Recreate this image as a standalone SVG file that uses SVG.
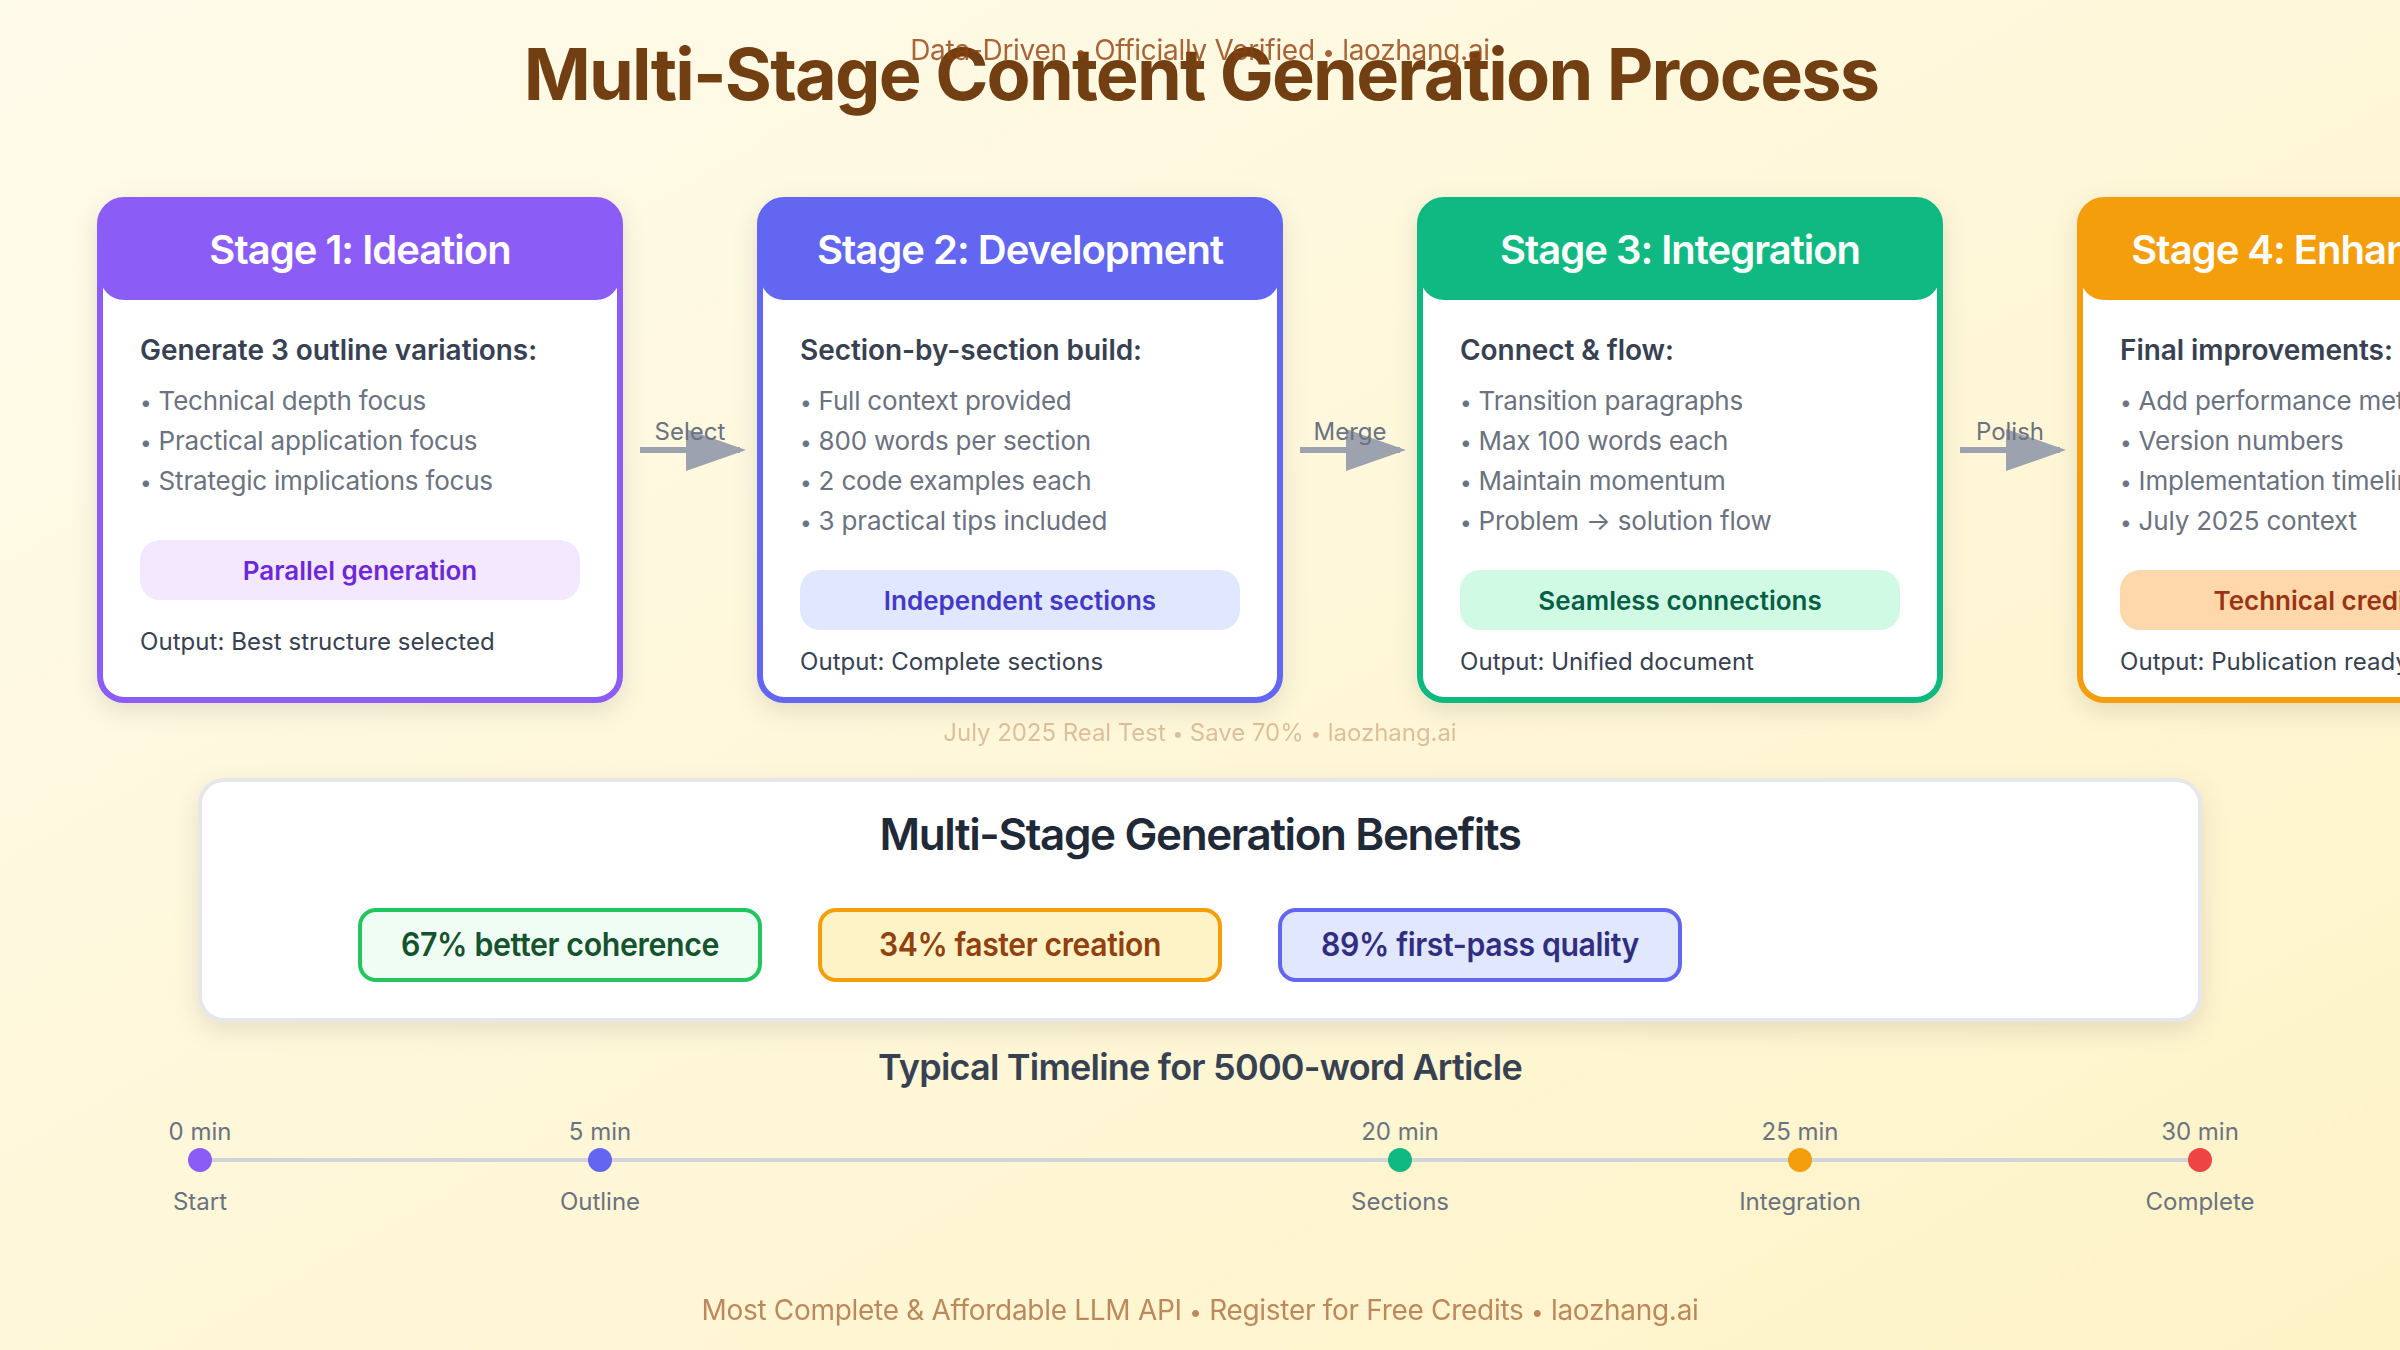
<svg xmlns="http://www.w3.org/2000/svg" width="2400" height="1350" viewBox="0 0 2400 1350">
<defs>
<linearGradient id="bg" x1="0" y1="0" x2="1" y2="1"><stop offset="0" stop-color="#fffbeb"/><stop offset="1" stop-color="#fef3c7"/></linearGradient>
<filter id="shadow" x="-10%" y="-10%" width="120%" height="125%"><feDropShadow dx="0" dy="8" stdDeviation="12" flood-color="#000" flood-opacity="0.1"/></filter>
<marker id="arrow" markerWidth="10" markerHeight="7" refX="9" refY="3.5" orient="auto"><polygon points="0 0,10 3.5,0 7" fill="#9ca3af"/></marker>
</defs>
<style>
text{font-family:Inter,"Liberation Sans",sans-serif}
.m{text-anchor:middle}
.card{fill:#fff;stroke-width:6;filter:url(#shadow)}
.head{font-size:40px;font-weight:600;fill:#fff;letter-spacing:-1px}
.sub{font-size:28px;font-weight:600;fill:#374151;letter-spacing:-.05px}
.li{font-size:26px;fill:#6b7280;letter-spacing:-.2px}
.pill{font-size:26px;font-weight:600}
.out{font-size:24px;fill:#374151;letter-spacing:.05px}
.lab{font-size:24px;fill:#6b7280}
.chip{font-size:32px;font-weight:600;letter-spacing:-.4px}
.note{letter-spacing:-.3px}
.b{font-size:.8em}
.conn{stroke:#9ca3af;stroke-width:6;fill:none;marker-end:url(#arrow)}
</style>
<rect width="2400" height="1350" fill="url(#bg)"/>
<g id="title">
<text class="m" x="1201" y="100" font-size="72" font-weight="700" fill="#713f12" letter-spacing="-1.8">Multi-Stage Content Generation Process</text>
<text class="m note" x="1200" y="60" font-size="28" fill="#92400e" opacity="0.8">Data-Driven <tspan class="b">•</tspan> Officially Verified <tspan class="b">•</tspan> laozhang.ai</text>
</g>
<g id="stage1">
<rect class="card" x="100" y="200" width="520" height="500" rx="24" stroke="#8b5cf6"/>
<rect x="100" y="200" width="520" height="100" rx="24" fill="#8b5cf6"/>
<text class="head m" x="360" y="264">Stage 1: Ideation</text>
<text class="sub" x="140" y="360">Generate 3 outline variations:</text>
<text class="li" x="140" y="410"><tspan class="b">•</tspan> Technical depth focus</text>
<text class="li" x="140" y="450"><tspan class="b">•</tspan> Practical application focus</text>
<text class="li" x="140" y="490"><tspan class="b">•</tspan> Strategic implications focus</text>
<rect x="140" y="540" width="440" height="60" rx="20" fill="#f3e8ff"/>
<text class="pill m" x="360" y="580" fill="#6d28d9">Parallel generation</text>
<text class="out" x="140" y="650">Output: Best structure selected</text>
</g>
<g id="stage2">
<rect class="card" x="760" y="200" width="520" height="500" rx="24" stroke="#6366f1"/>
<rect x="760" y="200" width="520" height="100" rx="24" fill="#6366f1"/>
<text class="head m" x="1020" y="264">Stage 2: Development</text>
<text class="sub" x="800" y="360">Section-by-section build:</text>
<text class="li" x="800" y="410"><tspan class="b">•</tspan> Full context provided</text>
<text class="li" x="800" y="450"><tspan class="b">•</tspan> 800 words per section</text>
<text class="li" x="800" y="490"><tspan class="b">•</tspan> 2 code examples each</text>
<text class="li" x="800" y="530"><tspan class="b">•</tspan> 3 practical tips included</text>
<rect x="800" y="570" width="440" height="60" rx="20" fill="#e0e7ff"/>
<text class="pill m" x="1020" y="610" fill="#4338ca">Independent sections</text>
<text class="out" x="800" y="670">Output: Complete sections</text>
</g>
<g id="stage3">
<rect class="card" x="1420" y="200" width="520" height="500" rx="24" stroke="#10b981"/>
<rect x="1420" y="200" width="520" height="100" rx="24" fill="#10b981"/>
<text class="head m" x="1680" y="264">Stage 3: Integration</text>
<text class="sub" x="1460" y="360">Connect &amp; flow:</text>
<text class="li" x="1460" y="410"><tspan class="b">•</tspan> Transition paragraphs</text>
<text class="li" x="1460" y="450"><tspan class="b">•</tspan> Max 100 words each</text>
<text class="li" x="1460" y="490"><tspan class="b">•</tspan> Maintain momentum</text>
<text class="li" x="1460" y="530"><tspan class="b">•</tspan> Problem → solution flow</text>
<rect x="1460" y="570" width="440" height="60" rx="20" fill="#d1fae5"/>
<text class="pill m" x="1680" y="610" fill="#065f46">Seamless connections</text>
<text class="out" x="1460" y="670">Output: Unified document</text>
</g>
<g id="stage4">
<rect class="card" x="2080" y="200" width="520" height="500" rx="24" stroke="#f59e0b"/>
<rect x="2080" y="200" width="520" height="100" rx="24" fill="#f59e0b"/>
<text class="head m" x="2340" y="264">Stage 4: Enhancement</text>
<text class="sub" x="2120" y="360">Final improvements:</text>
<text class="li" x="2120" y="410"><tspan class="b">•</tspan> Add performance metrics</text>
<text class="li" x="2120" y="450"><tspan class="b">•</tspan> Version numbers</text>
<text class="li" x="2120" y="490"><tspan class="b">•</tspan> Implementation timelines</text>
<text class="li" x="2120" y="530"><tspan class="b">•</tspan> July 2025 context</text>
<rect x="2120" y="570" width="440" height="60" rx="20" fill="#fed7aa"/>
<text class="pill m" x="2340" y="610" fill="#9a3412">Technical credibility</text>
<text class="out" x="2120" y="670">Output: Publication ready</text>
</g>
<g id="connectors">
<line class="conn" x1="640" y1="450" x2="740" y2="450"/>
<line class="conn" x1="1300" y1="450" x2="1400" y2="450"/>
<line class="conn" x1="1960" y1="450" x2="2060" y2="450"/>
<text class="lab m" x="690" y="440">Select</text>
<text class="lab m" x="1350" y="440">Merge</text>
<text class="lab m" x="2010" y="440">Polish</text>
</g>
<text id="watermark" class="m" x="1200" y="741" font-size="24" fill="#92400e" opacity="0.3" letter-spacing="-.05">July 2025 Real Test <tspan class="b">•</tspan> Save 70% <tspan class="b">•</tspan> laozhang.ai</text>
<g id="benefits">
<rect x="200" y="780" width="2000" height="240" rx="24" fill="#fff" stroke="#e5e7eb" stroke-width="4" filter="url(#shadow)"/>
<text class="m" x="1200" y="850" font-size="44" font-weight="600" fill="#1f2937" letter-spacing="-1.38">Multi-Stage Generation Benefits</text>
<g id="benefit1"><rect x="360" y="910" width="400" height="70" rx="16" fill="#f0fdf4" stroke="#22c55e" stroke-width="4"/><text class="chip m" x="560" y="956" fill="#14532d" textLength="318" lengthAdjust="spacingAndGlyphs">67% better coherence</text></g>
<g id="benefit2"><rect x="820" y="910" width="400" height="70" rx="16" fill="#fef3c7" stroke="#f59e0b" stroke-width="4"/><text class="chip m" x="1020" y="956" fill="#92400e" textLength="282" lengthAdjust="spacingAndGlyphs">34% faster creation</text></g>
<g id="benefit3"><rect x="1280" y="910" width="400" height="70" rx="16" fill="#e0e7ff" stroke="#6366f1" stroke-width="4"/><text class="chip m" x="1480" y="956" fill="#312e81" textLength="318" lengthAdjust="spacingAndGlyphs">89% first-pass quality</text></g>
</g>
<g id="timeline">
<text class="m" x="1200" y="1080" font-size="36" font-weight="600" fill="#374151" letter-spacing="-.79">Typical Timeline for 5000-word Article</text>
<line x1="200" y1="1160" x2="2200" y2="1160" stroke="#d1d5db" stroke-width="4"/>
<g id="t0"><circle cx="200" cy="1160" r="12" fill="#8b5cf6"/><text class="lab m" x="200" y="1140">0 min</text><text class="lab m" x="200" y="1210">Start</text></g>
<g id="t1"><circle cx="600" cy="1160" r="12" fill="#6366f1"/><text class="lab m" x="600" y="1140">5 min</text><text class="lab m" x="600" y="1210">Outline</text></g>
<g id="t2"><circle cx="1400" cy="1160" r="12" fill="#10b981"/><text class="lab m" x="1400" y="1140">20 min</text><text class="lab m" x="1400" y="1210">Sections</text></g>
<g id="t3"><circle cx="1800" cy="1160" r="12" fill="#f59e0b"/><text class="lab m" x="1800" y="1140">25 min</text><text class="lab m" x="1800" y="1210">Integration</text></g>
<g id="t4"><circle cx="2200" cy="1160" r="12" fill="#ef4444"/><text class="lab m" x="2200" y="1140">30 min</text><text class="lab m" x="2200" y="1210">Complete</text></g>
</g>
<text id="footer" class="m note" x="1200" y="1320" font-size="28" fill="#92400e" opacity="0.6">Most Complete &amp; Affordable LLM API <tspan class="b">•</tspan> Register for Free Credits <tspan class="b">•</tspan> laozhang.ai</text>
</svg>
